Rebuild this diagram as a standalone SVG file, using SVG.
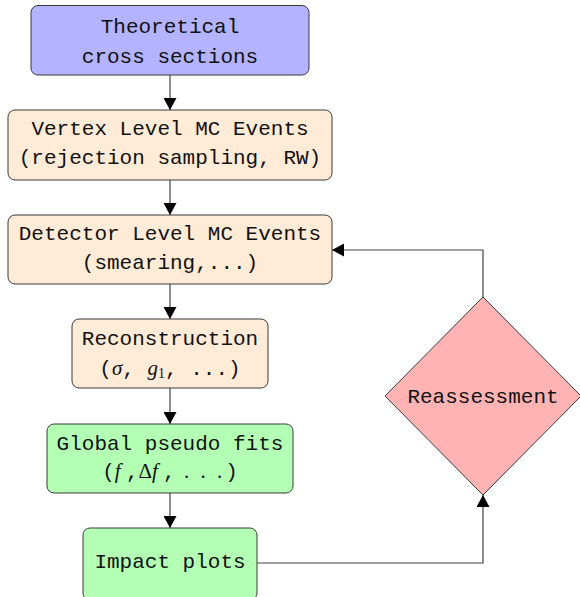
<svg xmlns="http://www.w3.org/2000/svg" width="580" height="597" viewBox="0 0 580 597">
  <defs>
    <marker id="arrow" viewBox="0 0 12 13" refX="12" refY="6.5" markerWidth="12" markerHeight="13" markerUnits="userSpaceOnUse" orient="auto">
      <path d="M0,0 L12,6.5 L0,13 Z" fill="#000"/>
    </marker>
  </defs>
  <style>
    .box { stroke: #3a3a3a; stroke-width: 1; }
    .theory { fill: #b3b3ff; }
    .mc { fill: #ffebd6; }
    .fit { fill: #b3ffb3; }
    .decision { fill: #ffb3b3; }
    .lbl { font-family: "Liberation Mono", "DejaVu Sans Mono", monospace; font-size: 21px; fill: #111; text-anchor: middle; }
    .math { font-family: "Liberation Serif", "DejaVu Serif", serif; font-style: italic; }
    .up { font-family: "Liberation Serif", "DejaVu Serif", serif; font-style: normal; }
    .edge { fill: none; stroke: #444; stroke-width: 1.2; }
  </style>

  <g id="connectors">
    <line class="edge" x1="170" y1="75" x2="170" y2="110" marker-end="url(#arrow)"/>
    <line class="edge" x1="170" y1="180" x2="170" y2="215" marker-end="url(#arrow)"/>
    <line class="edge" x1="170" y1="284" x2="170" y2="319" marker-end="url(#arrow)"/>
    <line class="edge" x1="170" y1="388" x2="170" y2="424" marker-end="url(#arrow)"/>
    <line class="edge" x1="170" y1="493" x2="170" y2="528" marker-end="url(#arrow)"/>
    <polyline class="edge" points="257,563 483,563 483,495" marker-end="url(#arrow)"/>
    <polyline class="edge" points="483,297 483,250 332,250" marker-end="url(#arrow)"/>
  </g>

  <g id="theoretical">
    <rect class="box theory" x="31" y="5.5" width="278" height="69.5" rx="7"/>
    <text class="lbl" x="170" y="33">Theoretical</text>
    <text class="lbl" x="170" y="63">cross sections</text>
  </g>

  <g id="vertex">
    <rect class="box mc" x="8" y="110" width="324" height="70" rx="7"/>
    <text class="lbl" x="170" y="135">Vertex Level MC Events</text>
    <text class="lbl" x="170" y="164">(rejection sampling, RW)</text>
  </g>

  <g id="detector">
    <rect class="box mc" x="8" y="215" width="324" height="69" rx="7"/>
    <text class="lbl" x="170" y="240">Detector Level MC Events</text>
    <text class="lbl" x="170" y="269">(smearing,...)</text>
  </g>

  <g id="reconstruction">
    <rect class="box mc" x="72" y="319" width="196" height="69" rx="7"/>
    <text class="lbl" x="170" y="345">Reconstruction</text>
    <text class="lbl" x="170" y="375">(<tspan class="math">σ</tspan>, <tspan class="math">g</tspan><tspan class="up" font-size="14" dy="3">1</tspan><tspan dy="-3">, ...)</tspan></text>
  </g>

  <g id="global-fits">
    <rect class="box fit" x="47" y="424" width="246" height="69" rx="7"/>
    <text class="lbl" x="170" y="450">Global pseudo fits</text>
    <text class="lbl" x="170" y="478">(<tspan class="math">f </tspan>,<tspan class="up">Δ</tspan><tspan class="math">f </tspan>,<tspan class="up" letter-spacing="3"> . . .</tspan>)</text>
  </g>

  <g id="impact-plots">
    <rect class="box fit" x="83" y="528" width="174" height="72" rx="7"/>
    <text class="lbl" x="170" y="568">Impact plots</text>
  </g>

  <g id="reassessment">
    <polygon class="box decision" points="483,297 581,396 483,495 385,396"/>
    <text class="lbl" x="483" y="403">Reassessment</text>
  </g>
</svg>
